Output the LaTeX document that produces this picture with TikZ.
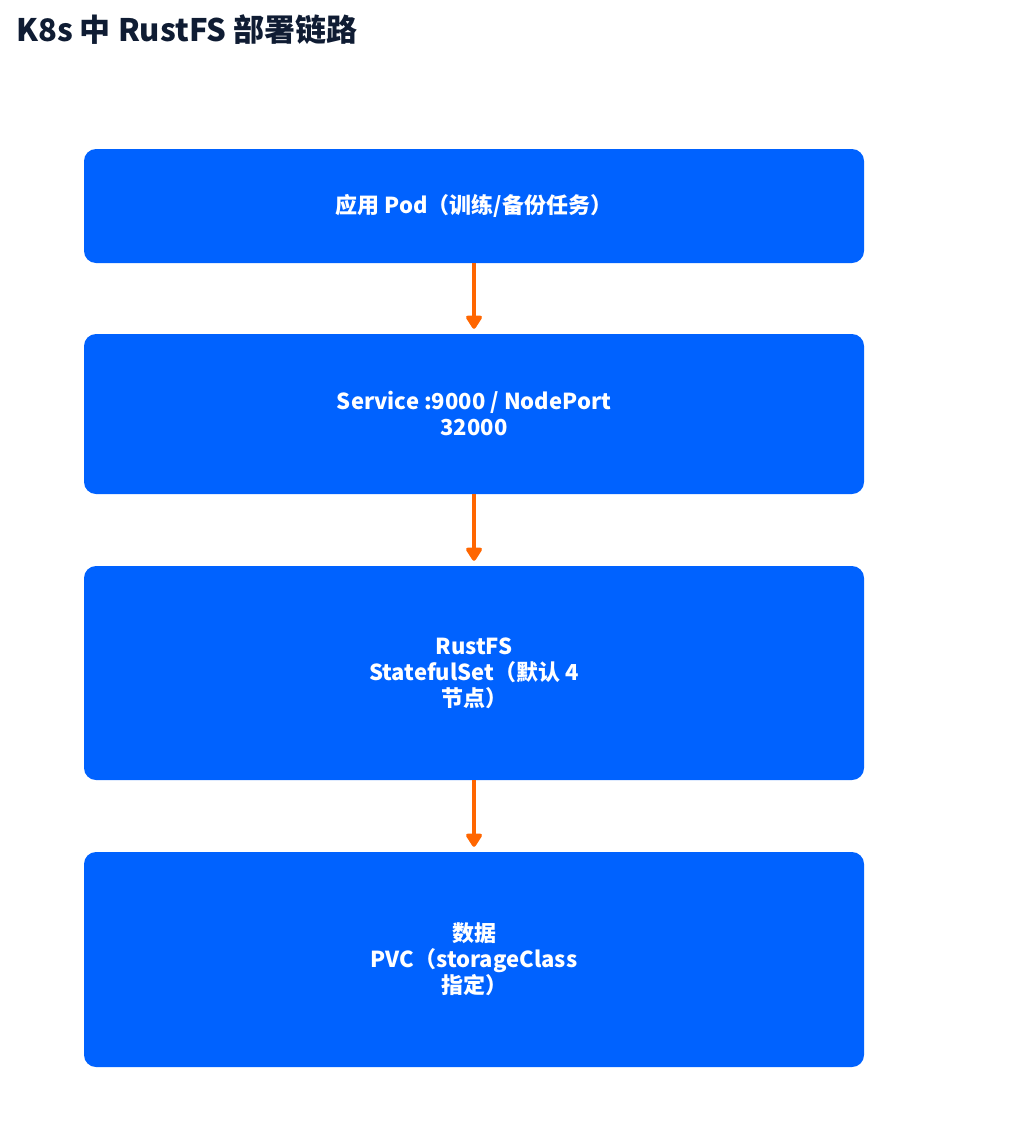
\documentclass[tikz,border=0pt]{standalone}
\usepackage{fontspec}
\setmainfont{Noto Sans CJK SC}
\usetikzlibrary{arrows.meta}
\definecolor{BoxClr}{rgb}{0,0.3843,1}
\definecolor{ArrowClr}{rgb}{1,0.4,0}
\definecolor{TitleClr}{rgb}{0.06,0.11,0.2}

\begin{document}
\begin{tikzpicture}[x=1pt,y=-1pt,
  stage/.style={fill=BoxClr,rounded corners=12pt,minimum width=780pt,
    text=white,align=center,font=\fontsize{22}{26}\selectfont\bfseries},
  flow/.style={draw=ArrowClr,line width=4.5pt,shorten >=5pt,
    -{Triangle[width=18pt,length=15pt,round]}}]
\useasboundingbox (0,0) rectangle (1035,1135);

\node[anchor=west,text=TitleClr,font=\fontsize{31}{36}\selectfont\bfseries,inner sep=0pt] (title) at (16,30) {K8s 中 RustFS 部署链路};

\node[stage,minimum height=114pt] (pod) at (474,206) {应用 Pod（训练/备份任务）};
\node[stage,minimum height=160pt] (svc) at (474,414) {Service :9000 / NodePort\\32000};
\node[stage,minimum height=214pt] (sts) at (474,673) {RustFS\\StatefulSet（默认 4\\节点）};
\node[stage,minimum height=215pt] (pvc) at (474,959.5) {数据\\PVC（storageClass\\指定）};

\draw[flow] (pod.south) -- (svc.north);
\draw[flow] (svc.south) -- (sts.north);
\draw[flow] (sts.south) -- (pvc.north);

\end{tikzpicture}
\end{document}
